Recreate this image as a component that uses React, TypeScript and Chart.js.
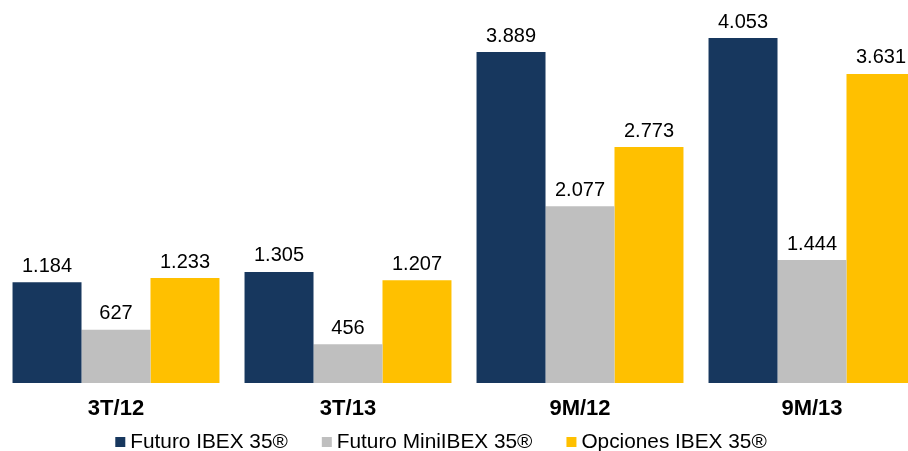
import React, { useEffect, useRef } from "react";
import { Chart, registerables } from "chart.js";

Chart.register(...registerables);

const categories = ["3T/12", "3T/13", "9M/12", "9M/13"];
const futuroIbex = [1184, 1305, 3889, 4053];
const futuroMini = [627, 456, 2077, 1444];
const opcionesIbex = [1233, 1207, 2773, 3631];
const seriesNames = ["Futuro IBEX 35®", "Futuro MiniIBEX 35®", "Opciones IBEX 35®"];
const seriesColors = ["#17375E", "#BFBFBF", "#FFC000"];

const FONT = 'Arial, "Liberation Sans", sans-serif';

const fmt = (v: number) => String(v).replace(/\B(?=(\d{3})+(?!\d))/g, ".");

const dataLabels = {
  id: "dataLabels",
  afterDatasetsDraw(chart: any) {
    const ctx = chart.ctx;
    ctx.save();
    ctx.font = `20px ${FONT}`;
    ctx.fillStyle = "#000";
    ctx.textAlign = "center";
    ctx.textBaseline = "middle";
    chart.data.datasets.forEach((ds: any, i: number) => {
      const meta = chart.getDatasetMeta(i);
      meta.data.forEach((bar: any, j: number) => {
        ctx.fillText(fmt(ds.data[j]), bar.x, bar.y - 16);
      });
    });
    ctx.restore();
  },
};

const customLegend = {
  id: "customLegend",
  afterDraw(chart: any) {
    const ctx = chart.ctx;
    ctx.save();
    ctx.font = `20.8px ${FONT}`;
    ctx.textBaseline = "middle";
    ctx.textAlign = "left";
    const box = 10;
    const gapBox = 5;
    const gapItem = 34;
    const items = chart.data.datasets.map((ds: any) => ({
      label: ds.label,
      color: ds.backgroundColor,
      w: box + gapBox + ctx.measureText(ds.label).width,
    }));
    const total = items.reduce((s: number, it: any) => s + it.w, 0) + gapItem * (items.length - 1);
    const centerX = 441;
    const y = 442;
    let x = centerX - total / 2;
    items.forEach((it: any) => {
      ctx.fillStyle = it.color;
      ctx.fillRect(x, y - box / 2, box, box);
      ctx.fillStyle = "#000";
      ctx.fillText(it.label, x + box + gapBox, y);
      x += it.w + gapItem;
    });
    ctx.restore();
  },
};

export default function App() {
  const ref = useRef<HTMLCanvasElement>(null);
  useEffect(() => {
    if (!ref.current) return;
    const chart = new Chart(ref.current, {
      type: "bar",
      data: {
        labels: categories,
        datasets: [futuroIbex, futuroMini, opcionesIbex].map((d, i) => ({
          label: seriesNames[i],
          data: d,
          backgroundColor: seriesColors[i],
          borderWidth: 0,
          categoryPercentage: 0.892,
          barPercentage: 1.0,
        })),
      },
      options: {
        responsive: false,
        animation: false,
        devicePixelRatio: 1,
        layout: { padding: { left: 0, right: 0, top: 0, bottom: 0 } },
        plugins: {
          legend: { display: false },
          tooltip: { enabled: false },
        },
        scales: {
          x: {
            grid: { display: false, drawTicks: false },
            border: { display: false },
            ticks: {
              padding: 13,
              color: "#000",
              font: { family: FONT, size: 22, weight: "bold" },
            },
            afterFit: (scale: any) => {
              scale.height = 68;
            },
          },
          y: {
            display: false,
            min: 0,
            max: 4500,
          },
        },
      },
      plugins: [dataLabels, customLegend],
    });
    return () => chart.destroy();
  }, []);
  return (
    <div style={{ position: "absolute", left: 0, top: 0, width: 908, height: 451, overflow: "hidden", background: "#fff" }}>
      <canvas ref={ref} width={928} height={451} style={{ display: "block" }} />
    </div>
  );
}
